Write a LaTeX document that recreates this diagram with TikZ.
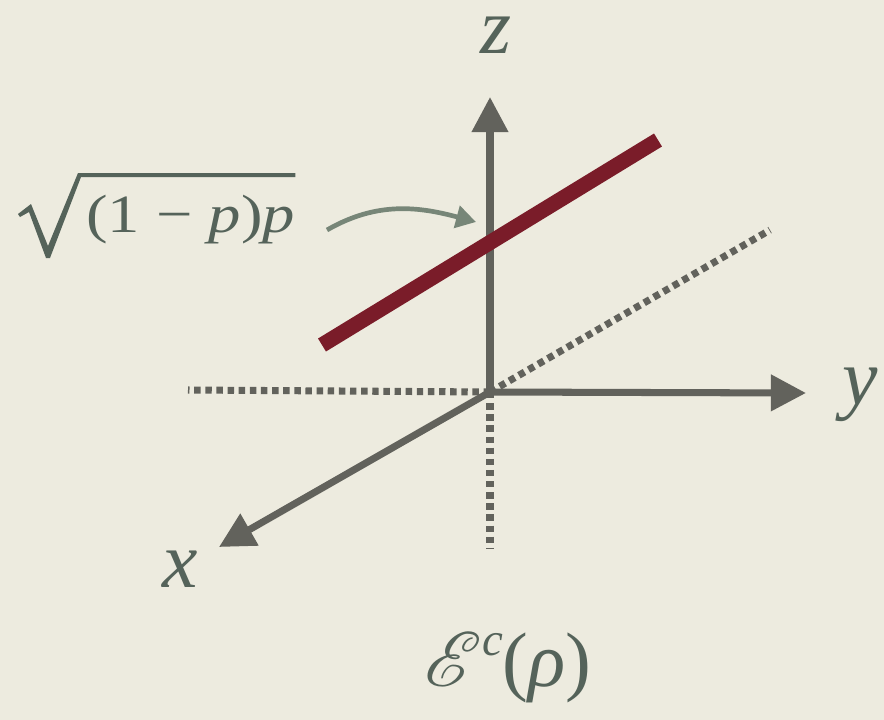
\RequirePackage{fix-cm}
\documentclass[tikz,border=0pt]{standalone}
\usepackage{fontspec}
\IfFontExistsTF{LiberationSerif-Regular.ttf}
  {\newfontfamily\labelfont{LiberationSerif}[Extension=.ttf, UprightFont=*-Regular, ItalicFont=*-Italic]}
  {\newfontfamily\labelfont{Latin Modern Roman}}
\usepackage{graphicx}
\usepackage{mathrsfs}
\DeclareFontFamily{U}{rsfs}{\skewchar\font127 }
\DeclareFontShape{U}{rsfs}{m}{n}{<-> rsfs10}{}
\usepackage{xcolor}
\usetikzlibrary{arrows.meta, positioning, calc}

\definecolor{paper}{HTML}{EDEBDF}
\definecolor{axisgray}{HTML}{62625C}
\definecolor{inkgreen}{HTML}{55635A}
\definecolor{pointer}{HTML}{778678}
\definecolor{wine}{HTML}{7A1C29}

\begin{document}
\begin{tikzpicture}[
  x=0.03cm, y=-0.03cm,
  axis/.style={-{Triangle[length=30pt, width=30pt]}, line width=6pt, axisgray},
  hidden/.style={line width=6pt, axisgray, dash pattern=on 5.5pt off 4pt},
  label/.style={text=inkgreen, inner sep=0pt, anchor=base, font=\labelfont\fontsize{68}{68}\selectfont\itshape},
  ]

  % paper
  \fill[paper] (0,0) rectangle (884,720);
  \useasboundingbox (0,0) rectangle (884,720);

  % origin and axis tips
  \coordinate (O) at (490,392);
  \coordinate (ztip) at (490,97);
  \coordinate (ytip) at (806,393);
  \coordinate (xtip) at (219,547);

  % hidden parts
  \draw[hidden] (O) -- (188,390);
  \draw[hidden] (O) -- (490,548);
  \draw[hidden] (O) -- (770,230);

  % axes
  \draw[axis] (O) -- (ztip);
  \draw[axis] (O) -- (ytip);
  \draw[axis] (O) -- (xtip);

  % axis names
  \node[label] (zlab) at (496,53) {z};
  \node[label] (ylab) at (860,404) {y};
  \node[label] (xlab) at (180,587) {x};

  % the line
  \draw[wine, line width=13pt] (322,345) -- (658,140);

  % height label, radical drawn by hand
  \node[label, anchor=base west, font=\labelfont\fontsize{46}{46}\selectfont] (height) at (86,232)
    {\scalebox{1.2}[1]{(1 − \textit{p})\textit{p}}};
  \coordinate (bartop) at (height.east |- 0,173);
  \coordinate (barbot) at (height.east |- 0,177);
  \fill[inkgreen] (18,214) -- (31,204) -- (48,246) -- (78,173) -- (bartop)
    -- (barbot) -- (81,177) -- (50,258) -- (46,258) -- (29,212) -- (20,217) -- cycle;
  \coordinate (start) at (327,230);
  \coordinate (hit) at (476,222);
  \draw[-{Triangle[length=17pt, width=19pt]}, line width=4pt, pointer]
    (start) to[out=30, in=165] (hit);

  % channel
  \node[label, font=\labelfont\fontsize{66}{66}\selectfont] (chan) at (508,686)
    {$\mathscr{E}$\raisebox{0.4em}{\fontsize{40}{40}\selectfont\itshape c}(\textit{ρ})};

\end{tikzpicture}
\end{document}
